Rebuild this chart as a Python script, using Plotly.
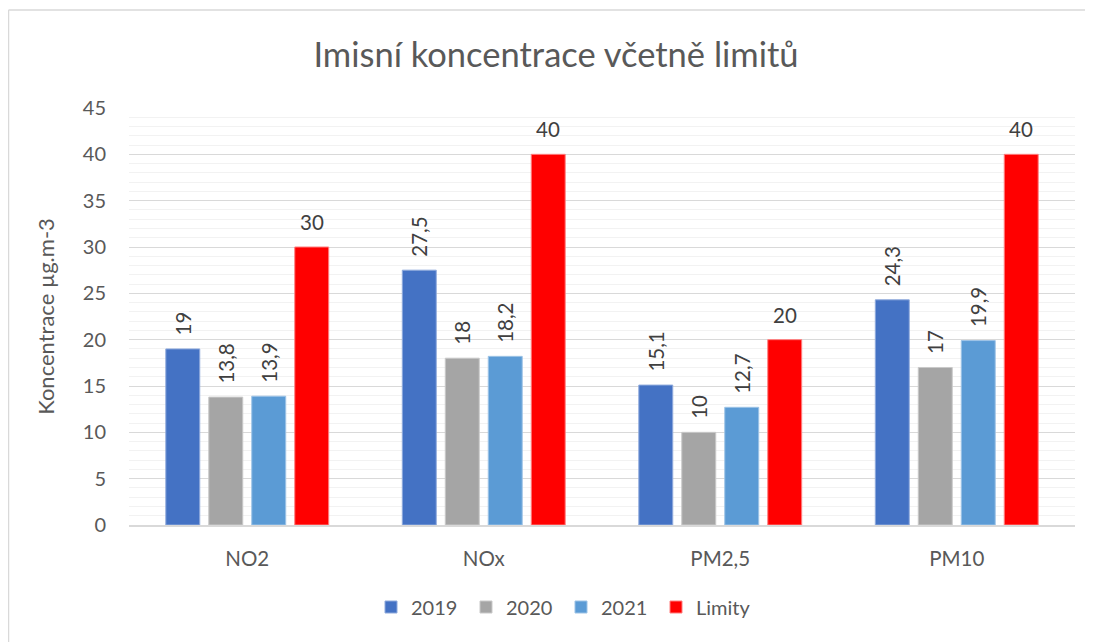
import plotly.graph_objects as go

categories = ["NO2", "NOx", "PM2,5", "PM10"]
series_names = ["2019", "2020", "2021", "Limity"]
v2019 = [19, 27.5, 15.1, 24.3]
v2020 = [13.8, 18, 10, 17]
v2021 = [13.9, 18.2, 12.7, 19.9]
limity = [30, 40, 20, 40]
colors = ["#4472C4", "#A5A5A5", "#5B9BD5", "#FF0000"]
line_colors = ["#8FAADC", "#C9C9C9", "#9DC3E6", "#FF7F7F"]

FONT = "Lato"
TXT = "#595959"
LBL = "#404040"

def fmt(v):
    return ("%g" % v).replace(".", ",")

# page has an 8px body margin: figure origin sits at page (8, 8)
OFF = 8
W, H = 1093 - OFF, 642 - OFF
L, T = 129 - OFF, 108 - OFF
R = W - (1075 - OFF)
B = H - (525 - OFF)
pw, ph = W - L - R, H - T - B
BARGAP, GROUPGAP = 0.273, 0.21
n_series = 4
slot = pw / len(categories) * (1 - BARGAP) / n_series

def px_x(px):  # page x -> paper x
    return (px - OFF - L) / pw

def px_y(py):  # page y -> paper y
    return (H - B - (py - OFF)) / ph

fig = go.Figure()
all_vals = [v2019, v2020, v2021, limity]
annotations = []
for i, (name, vals) in enumerate(zip(series_names, all_vals)):
    rotated = i < 3
    if rotated:
        fig.add_trace(go.Bar(
            x=categories, y=vals, name=name,
            marker=dict(color=colors[i], line=dict(color=line_colors[i], width=1)),
            text=["\u00a0\u00a0" + fmt(v) for v in vals],
            textposition="outside", textangle=-90, constraintext="none",
            textfont=dict(family=FONT, size=20.5, color=LBL),
            cliponaxis=False,
        ))
    else:
        fig.add_trace(go.Bar(
            x=categories, y=vals, name=name,
            marker=dict(color=colors[i], line=dict(color=line_colors[i], width=1)),
            cliponaxis=False,
        ))
        for c, v in zip(categories, vals):
            annotations.append(dict(
                x=c, y=v, xref="x", yref="y", text=fmt(v), showarrow=False,
                xshift=(i - (n_series - 1) / 2) * slot, yshift=11,
                xanchor="center", yanchor="bottom",
                font=dict(family=FONT, size=20.5, color=LBL),
            ))

fig.update_layout(
    width=W, height=H,
    margin=dict(l=L, r=R, t=T, b=B, autoexpand=False),
    paper_bgcolor="white", plot_bgcolor="white",
    barmode="group", bargap=BARGAP, bargroupgap=GROUPGAP,
    font=dict(family=FONT, color=TXT, size=20),
    title=dict(text="Imisní koncentrace včetně limitů",
               x=(556 - OFF) / W, xanchor="center",
               y=1 - (55 - OFF) / H, yanchor="middle",
               font=dict(family=FONT, size=34.5, color=TXT)),
    legend=dict(orientation="h", x=px_x(561), xanchor="center",
                y=px_y(607), yanchor="middle",
                font=dict(family=FONT, size=20, color=TXT), itemwidth=30,
                entrywidth=50, entrywidthmode="pixels"),
    showlegend=True,
    annotations=annotations,
    shapes=[
        dict(type="line", xref="paper", yref="paper",
             x0=px_x(8.5), x1=px_x(8.5), y0=px_y(660), y1=px_y(10),
             line=dict(color="#D9D9D9", width=1.5)),
        dict(type="line", xref="paper", yref="paper",
             x0=px_x(8.5), x1=px_x(1100), y0=px_y(10), y1=px_y(10),
             line=dict(color="#D9D9D9", width=1.5)),
    ],
)
fig.update_yaxes(
    range=[0, 45], dtick=5, showgrid=True, gridcolor="#D9D9D9", gridwidth=1,
    minor=dict(dtick=1, showgrid=True, gridcolor="#F2F2F2", gridwidth=1),
    zeroline=False, ticklabelstandoff=22,
    tickfont=dict(family=FONT, size=20, color=TXT),
    title=dict(text="Koncentrace µg.m-3", standoff=22, font=dict(family=FONT, size=22, color=TXT)),
)
fig.update_xaxes(
    showline=True, linecolor="#D9D9D9", linewidth=1.5, ticks="",
    ticklabelstandoff=15,
    tickfont=dict(family=FONT, size=20.5, color=TXT),
)
fig.write_html("out.html")
